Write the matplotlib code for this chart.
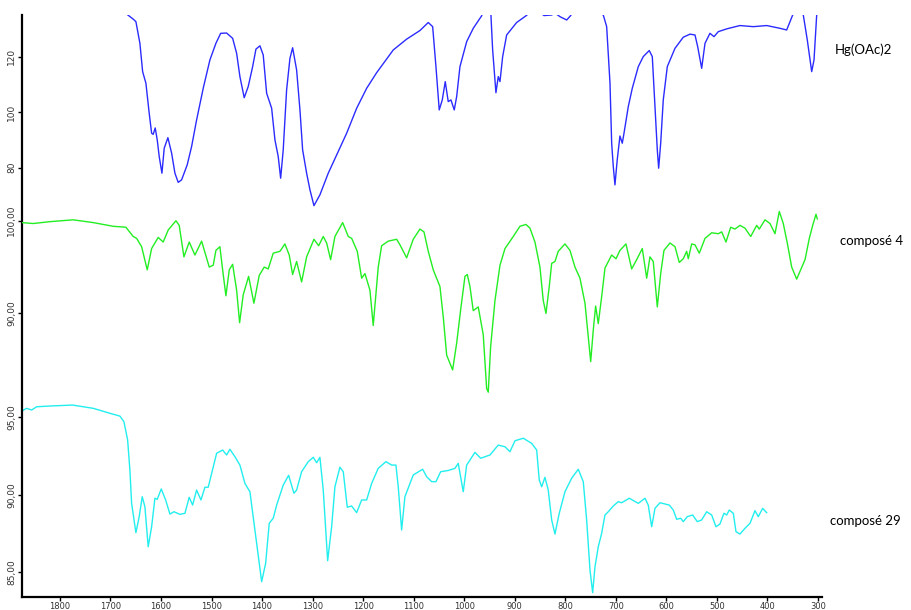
import matplotlib
matplotlib.use("Agg")
import matplotlib.pyplot as plt

# Hg(OAc)2 spectrum (wavenumber cm-1, transmittance)
blue_wn = [1673.3, 1654.9, 1649.6, 1641.7, 1636.3, 1629.8, 1623.3, 1618.5, 1615.4, 1611.4,
           1607.4, 1603.5, 1598.1, 1593.6, 1586.3, 1578.9, 1572.4, 1565.9, 1559.2, 1548.1,
           1539.4, 1529.5, 1516.4, 1503.2, 1491.3, 1481.9, 1470.1, 1458.2, 1450.3, 1443.8,
           1435.3, 1427.4, 1418.6, 1412.1, 1404.2, 1397.7, 1390.9, 1381.0, 1374.5, 1368.0,
           1363.2, 1358.1, 1351.4, 1344.8, 1339.5, 1331.6, 1325.0, 1319.7, 1311.8, 1305.2,
           1297.3, 1285.5, 1269.0, 1252.4, 1232.6, 1212.8, 1193.0, 1173.3, 1140.4, 1113.9,
           1087.6, 1071.1, 1062.4, 1055.9, 1049.4, 1043.4, 1037.5, 1031.6, 1026.2, 1019.7,
           1014.9, 1008.4, 995.1, 982.1, 965.5, 960.9, 951.0, 947.1, 943.7, 937.2,
           932.6, 929.2, 923.9, 916.0, 896.2, 877.8, 860.0, 842.2, 834.3, 826.9,
           820.4, 810.5, 797.2, 789.3, 780.8, 741.1, 724.8, 718.1, 711.5, 708.2,
           705.0, 701.7, 697.2, 691.8, 687.2, 683.8, 675.3, 667.4, 655.5, 645.7,
           633.8, 627.8, 622.5, 617.9, 615.2, 611.2, 606.1, 598.1, 582.9, 566.5,
           553.2, 543.3, 538.0, 530.1, 523.5, 513.7, 505.7, 497.2, 480.6, 454.3,
           427.9, 401.4, 375.1, 361.9, 350.0, 341.5, 333.6, 329.0, 321.1, 312.4,
           307.8, 302.5, 300.0]
blue_t = [136.1, 133.5, 132.6, 124.8, 114.6, 110.4, 99.6, 92.4, 92.0, 94.3,
          90.0, 84.0, 78.0, 87.0, 90.8, 85.2, 78.0, 74.7, 75.6, 81.0,
          87.6, 97.2, 108.6, 118.8, 124.8, 128.4, 128.5, 126.6, 121.2, 112.8,
          105.2, 109.2, 116.4, 122.7, 123.9, 120.6, 106.8, 101.4, 90.0, 84.0,
          76.2, 86.4, 108.0, 119.4, 123.2, 115.2, 100.8, 86.4, 78.0, 72.0,
          66.3, 70.2, 78.0, 84.6, 92.4, 101.4, 108.6, 114.2, 122.4, 126.3,
          129.4, 132.3, 130.8, 116.4, 100.8, 104.4, 111.0, 103.8, 104.4, 100.8,
          105.6, 116.4, 125.4, 130.2, 134.7, 137.5, 137.5, 135.0, 122.4, 107.0,
          112.8, 111.0, 120.0, 127.8, 132.3, 134.7, 137.5, 134.8, 134.9, 135.0,
          135.7, 134.4, 133.2, 134.8, 137.5, 137.5, 135.0, 130.8, 110.4, 88.8,
          80.4, 73.8, 82.8, 91.4, 88.8, 92.4, 102.0, 108.6, 116.4, 120.0,
          122.2, 120.0, 102.0, 86.4, 79.8, 88.8, 104.4, 116.4, 123.0, 127.0,
          128.1, 127.8, 123.6, 115.8, 124.8, 128.4, 127.2, 129.0, 130.0, 131.2,
          130.8, 131.2, 130.2, 129.6, 135.0, 137.5, 137.5, 135.0, 126.0, 114.6,
          118.8, 135.0, 137.5]

# compose 4 spectrum
green_wn = [1875.8, 1852.8, 1819.8, 1773.7, 1734.1, 1694.5, 1669.4, 1654.9, 1648.2, 1638.3,
            1627.2, 1618.5, 1605.5, 1595.6, 1585.7, 1570.4, 1563.9, 1554.6, 1544.1, 1532.8,
            1519.6, 1504.5, 1496.6, 1491.3, 1483.4, 1478.0, 1471.5, 1464.9, 1458.2, 1450.3,
            1444.4, 1437.3, 1426.6, 1416.1, 1405.6, 1395.7, 1387.8, 1377.9, 1364.6, 1354.8,
            1346.2, 1339.5, 1331.6, 1321.7, 1311.8, 1297.3, 1288.0, 1278.9, 1272.2, 1264.3,
            1255.8, 1240.5, 1229.4, 1222.7, 1211.6, 1202.9, 1196.4, 1186.5, 1180.0, 1170.1,
            1163.4, 1150.3, 1133.7, 1127.1, 1120.6, 1113.9, 1100.8, 1087.6, 1079.6, 1071.1,
            1061.2, 1048.0, 1041.4, 1034.7, 1022.9, 1014.9, 1007.0, 998.5, 993.9, 988.6,
            982.1, 972.2, 962.3, 955.6, 952.4, 947.7, 939.1, 929.2, 919.3, 902.9,
            889.7, 877.8, 869.9, 860.0, 850.1, 843.6, 838.2, 831.7, 826.9, 820.4,
            813.9, 800.6, 790.7, 780.8, 770.9, 761.0, 752.5, 749.7, 744.6, 739.9,
            734.7, 728.0, 721.4, 708.2, 699.6, 691.8, 679.9, 668.6, 658.7, 647.6,
            638.9, 632.4, 625.9, 617.9, 611.2, 604.7, 592.8, 582.9, 574.4, 566.5,
            559.8, 556.6, 549.9, 543.3, 534.8, 523.5, 510.3, 497.2, 490.5, 482.0,
            472.7, 464.2, 454.3, 444.4, 433.1, 421.2, 416.1, 404.8, 394.9, 385.0,
            376.5, 368.6, 360.7, 352.0, 342.1, 334.2, 325.6, 317.1, 310.4, 303.9,
            301.3]
green_t = [99.8, 99.7, 99.9, 100.1, 99.8, 99.4, 99.3, 98.3, 98.1, 97.2,
           94.7, 97.0, 98.2, 97.7, 99.0, 100.0, 99.5, 96.1, 97.7, 96.3,
           97.8, 95.0, 95.2, 96.8, 97.2, 94.7, 91.9, 94.7, 95.3, 92.5,
           89.0, 92.0, 94.0, 91.1, 94.1, 95.0, 94.8, 96.5, 96.7, 97.5,
           96.3, 94.2, 95.6, 93.4, 96.1, 98.0, 97.3, 98.3, 97.6, 95.8,
           98.3, 99.8, 98.3, 98.1, 96.7, 93.8, 94.3, 92.5, 88.7, 95.0,
           97.3, 97.8, 98.0, 97.4, 96.7, 96.0, 98.0, 99.1, 98.8, 96.7,
           94.7, 92.9, 89.6, 85.5, 83.9, 86.8, 90.4, 94.0, 94.2, 92.9,
           90.3, 90.7, 87.7, 81.9, 81.5, 86.4, 91.4, 95.2, 97.0, 98.3,
           99.4, 99.6, 99.2, 97.7, 95.0, 91.4, 90.0, 92.9, 95.4, 95.6,
           96.7, 97.5, 96.8, 95.0, 93.8, 91.1, 86.4, 84.8, 88.2, 90.8,
           88.9, 91.8, 94.9, 96.3, 95.9, 96.8, 97.5, 94.8, 95.8, 97.0,
           93.8, 96.1, 95.6, 90.7, 94.3, 96.8, 97.6, 97.2, 95.5, 95.9,
           96.7, 95.9, 97.5, 97.4, 96.5, 98.1, 98.7, 98.6, 98.8, 97.7,
           99.3, 99.1, 99.5, 99.2, 98.3, 99.5, 99.1, 100.1, 99.7, 98.6,
           101.0, 99.7, 97.6, 95.0, 93.7, 94.7, 95.8, 98.1, 99.5, 100.7,
           100.2]

# compose 29 spectrum
cyan_wn = [1873.8, 1865.9, 1856.0, 1846.1, 1819.8, 1774.9, 1734.1, 1701.1, 1681.3, 1673.3,
           1666.0, 1661.5, 1658.1, 1649.6, 1643.1, 1637.1, 1631.8, 1625.3, 1618.5, 1612.0,
           1607.4, 1599.5, 1590.8, 1582.3, 1574.4, 1562.5, 1552.6, 1544.1, 1537.4, 1529.5,
           1520.9, 1513.0, 1506.5, 1496.6, 1489.9, 1478.0, 1470.1, 1463.6, 1453.7, 1443.8,
           1433.9, 1424.0, 1414.1, 1400.8, 1392.9, 1385.8, 1377.9, 1371.1, 1358.1, 1347.4,
           1336.9, 1331.6, 1321.7, 1308.6, 1298.7, 1292.0, 1285.5, 1278.9, 1270.2, 1262.3,
           1255.8, 1245.9, 1239.3, 1231.4, 1222.7, 1212.8, 1202.9, 1193.0, 1183.1, 1170.1,
           1154.8, 1143.6, 1135.1, 1130.5, 1123.8, 1117.3, 1100.8, 1082.2, 1074.3, 1064.4,
           1055.9, 1046.6, 1031.6, 1018.3, 1011.8, 1001.9, 995.1, 978.7, 967.4, 949.0,
           932.6, 919.3, 909.5, 899.5, 883.1, 866.5, 856.6, 851.5, 846.7, 840.2,
           833.7, 826.9, 820.4, 811.9, 800.6, 787.4, 774.3, 764.4, 757.7, 751.1,
           745.8, 741.2, 734.7, 728.0, 721.4, 714.9, 705.0, 695.1, 688.4, 673.4,
           655.5, 642.3, 635.8, 629.0, 622.5, 612.6, 602.7, 594.2, 586.3, 579.6,
           571.6, 566.5, 558.6, 548.0, 538.8, 530.1, 520.2, 510.3, 501.8, 493.9,
           486.0, 480.6, 475.5, 467.5, 462.2, 454.3, 444.4, 434.5, 424.6, 418.1,
           409.4, 401.5]
cyan_t = [95.43, 95.58, 95.47, 95.68, 95.73, 95.79, 95.58, 95.26, 95.08, 94.72,
          93.54, 91.60, 89.45, 87.56, 88.59, 89.88, 89.23, 86.65, 87.94, 89.78,
          89.71, 90.38, 89.67, 88.76, 88.91, 88.74, 88.81, 89.84, 89.34, 90.31,
          89.67, 90.49, 90.49, 91.81, 92.68, 92.89, 92.57, 92.94, 92.46, 91.92,
          90.74, 90.20, 87.73, 84.40, 85.58, 88.16, 88.49, 89.34, 90.63, 91.26,
          90.10, 90.31, 91.49, 92.14, 92.42, 92.07, 92.42, 90.31, 85.75, 87.94,
          90.52, 91.78, 91.49, 89.20, 89.28, 88.85, 89.67, 89.67, 90.74, 91.71,
          92.14, 91.92, 91.92, 90.52, 87.73, 89.88, 91.28, 91.65, 91.17, 90.85,
          90.85, 91.49, 91.57, 91.71, 92.03, 90.20, 91.92, 92.74, 92.36, 92.57,
          93.21, 93.10, 92.78, 93.49, 93.65, 93.32, 92.89, 90.96, 90.52, 91.13,
          90.31, 88.38, 87.47, 88.81, 90.20, 91.07, 91.65, 90.85, 88.38, 85.15,
          83.69, 85.36, 86.65, 87.52, 88.70, 88.91, 89.28, 89.56, 89.49, 89.78,
          89.45, 89.78, 89.34, 87.94, 89.13, 89.49, 89.41, 89.34, 89.02, 88.42,
          88.49, 88.27, 88.59, 88.70, 88.27, 88.38, 88.91, 88.70, 87.94, 88.12,
          88.81, 88.70, 89.02, 88.81, 87.62, 87.47, 87.84, 88.16, 88.98, 88.59,
          89.13, 88.85]

x_ticks = [1800, 1700, 1600, 1500, 1400, 1300, 1200, 1100, 1000, 900, 800, 700, 600, 500, 400, 300]
blue_ticks = [80, 100, 120]
green_ticks = [90, 100]
cyan_ticks = [85, 90, 95]
labels = ["Hg(OAc)2", "composé 4", "composé 29"]

W, H = 911, 610
fig = plt.figure(figsize=(W / 100, H / 100), dpi=100)
rect = [22 / W, 13 / H, 800 / W, 582 / H]

ax_c = fig.add_axes(rect, label="cyan")
ax_g = fig.add_axes(rect, label="green")
ax_b = fig.add_axes(rect, label="blue")

ax_b.plot(blue_wn, blue_t, color="#2b2bff", lw=1.0)
ax_g.plot(green_wn, green_t, color="#22ee22", lw=1.0)
ax_c.plot(cyan_wn, cyan_t, color="#22eeee", lw=1.0)

ax_b.set_ylim(-74.7, 135.0)
ax_g.set_ylim(59.4, 122.2)
ax_c.set_ylim(83.41, 120.95)

ax_b.set_yticks(blue_ticks)
ax_b.set_yticklabels([str(t) for t in blue_ticks])
ax_g.set_yticks(green_ticks)
ax_g.set_yticklabels([f"{t},00" for t in green_ticks])
ax_c.set_yticks(cyan_ticks)
ax_c.set_yticklabels([f"{t},00" for t in cyan_ticks])

for ax in (ax_b, ax_g, ax_c):
    ax.set_xlim(1875, 292)
    ax.patch.set_visible(False)
    for s in ax.spines.values():
        s.set_visible(False)
    ax.tick_params(axis="y", direction="out", length=3, width=1, color="black",
                   labelsize=6.5, labelcolor="#333333", labelrotation=90, pad=1)
    for lab in ax.get_yticklabels():
        lab.set_verticalalignment("center")
    if ax is not ax_c:
        ax.set_xticks([])

ax_c.spines["left"].set_visible(True)
ax_c.spines["bottom"].set_visible(True)
ax_c.spines["left"].set_linewidth(1.6)
ax_c.spines["bottom"].set_linewidth(1.6)
ax_c.set_xticks(x_ticks)
ax_c.set_xticklabels([str(t) for t in x_ticks])
ax_c.tick_params(axis="x", direction="out", length=3, width=1, labelsize=6,
                 labelcolor="#333333", pad=0.5)

fig.text(835 / W, 1 - 50 / H, labels[0], fontsize=9.5, family="Lato", va="center", ha="left")
fig.text(840 / W, 1 - 241 / H, labels[1], fontsize=9.5, family="Lato", va="center", ha="left")
fig.text(830 / W, 1 - 521 / H, labels[2], fontsize=9.5, family="Lato", va="center", ha="left")

fig.savefig("out.png", dpi=100)
